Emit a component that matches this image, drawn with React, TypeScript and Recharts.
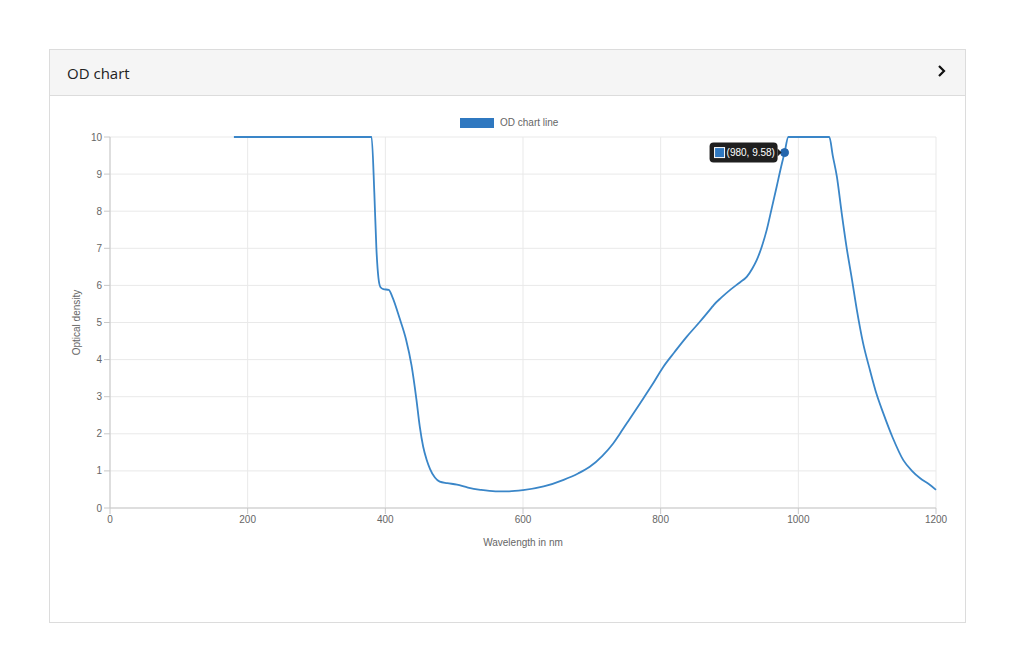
import React from 'react';
import {
  LineChart,
  Line,
  XAxis,
  YAxis,
  CartesianGrid,
  Legend,
  ReferenceDot,
} from 'recharts';

const wavelengths: number[] = [
  180, 380, 384, 387, 390, 393, 397, 405, 410, 421, 430, 438, 445, 450, 455, 460, 465, 472, 479,
  490, 504, 520, 538, 560, 580, 600, 630, 659, 680, 697, 715, 731, 741, 755, 770, 787, 804, 820,
  838, 856, 874, 877, 888, 901, 915, 925, 933, 939.5, 947, 954, 961, 968.5, 975, 980, 985.5,
  1045, 1050, 1056, 1063, 1070, 1078, 1085, 1094, 1104, 1114, 1123.5, 1137, 1152.5, 1165, 1177,
  1190, 1200,
];

const opticalDensity: number[] = [
  10, 10, 8.5, 7.0, 6.2, 5.95, 5.9, 5.88, 5.7, 5.1, 4.55, 3.85, 2.95, 2.2, 1.65, 1.3, 1.05, 0.82,
  0.71, 0.67, 0.63, 0.55, 0.49, 0.45, 0.45, 0.48, 0.58, 0.76, 0.93, 1.11, 1.4, 1.74, 2.01, 2.4,
  2.82, 3.3, 3.81, 4.2, 4.62, 5.0, 5.4, 5.47, 5.67, 5.88, 6.08, 6.23, 6.45, 6.68, 7.05, 7.49,
  8.05, 8.66, 9.2, 9.58, 10, 10, 9.5, 8.93, 7.95, 7.04, 6.15, 5.34, 4.45, 3.72, 3.05, 2.55, 1.9,
  1.29, 1.0, 0.8, 0.64, 0.49,
];

const xTicks: number[] = [0, 200, 400, 600, 800, 1000, 1200];
const yTicks: number[] = [0, 1, 2, 3, 4, 5, 6, 7, 8, 9, 10];

const highlightX = 980;
const highlightY = 9.58;

const seriesName = 'OD chart line';
const title = 'OD chart';
const xLabel = 'Wavelength in nm';
const yLabel = 'Optical density';

const data = wavelengths.map((nm, i) => ({ nm, od: opticalDensity[i] }));

const FONT = '"Liberation Sans", Arial, Helvetica, sans-serif';
const LINE_COLOR = '#3a86c8';
const LEGEND_COLOR = '#2f78c0';

const TooltipBox = (props: any) => {
  const vb = props.viewBox || {};
  const cx = vb.x + (vb.width || 0) / 2;
  const cy = vb.y + (vb.height || 0) / 2;
  const right = cx - 7;
  const left = cx - 75;
  const top = cy - 10;
  return (
    <g>
      <rect x={left} y={top} width={right - left} height={20} rx={4} ry={4} fill="#1f1f1f" />
      <polygon points={`${right},${cy - 4} ${cx - 3},${cy} ${right},${cy + 4}`} fill="#1f1f1f" />
      <rect x={left + 5} y={cy - 5} width={10} height={10} fill={LEGEND_COLOR} stroke="#fff" strokeWidth={1} />
      <text
        x={left + 17}
        y={cy + 3.5}
        fill="#fff"
        fontSize={10}
        fontFamily={FONT}
      >
        {`(${highlightX}, ${highlightY})`}
      </text>
    </g>
  );
};

const LegendContent = () => (
  <div style={{ display: 'flex', alignItems: 'center', fontFamily: FONT, fontSize: 10, color: '#666' }}>
    <div style={{ width: 34, height: 10, background: LEGEND_COLOR, marginRight: 6 }} />
    <span>{seriesName}</span>
  </div>
);

export default function App() {
  return (
    <div
      style={{
        position: 'absolute',
        left: 49,
        top: 49,
        width: 917,
        height: 574,
        boxSizing: 'border-box',
        border: '1px solid #dcdcdc',
        background: '#fff',
      }}
    >
      <div
        style={{
          height: 46,
          boxSizing: 'border-box',
          borderBottom: '1px solid #dcdcdc',
          background: '#f5f5f5',
          display: 'flex',
          alignItems: 'center',
          justifyContent: 'space-between',
          padding: '0 18px 0 17px',
        }}
      >
        <span style={{ fontFamily: '"Open Sans", sans-serif', fontSize: 15, color: '#222' }}>{title}</span>
        <svg width={10} height={14} style={{ marginTop: -4 }}>
          <polyline points="2,2 7,7 2,12" fill="none" stroke="#111" strokeWidth={2.2} />
        </svg>
      </div>
      <LineChart
        width={915}
        height={470}
        data={data}
        margin={{ top: 41, right: 29, bottom: 18, left: 0 }}
      >
        <CartesianGrid stroke="#e9e9e9" strokeWidth={1} />
        <XAxis
          type="number"
          dataKey="nm"
          domain={[0, 1200]}
          ticks={xTicks}
          height={40}
          stroke="#c8c8c8"
          tick={{ fill: '#666', fontSize: 10, fontFamily: FONT }}
          label={{ value: xLabel, position: 'center', dy: 14, fill: '#666', fontSize: 10, fontFamily: FONT }}
        />
        <YAxis
          type="number"
          domain={[0, 10]}
          ticks={yTicks}
          width={60}
          stroke="#c8c8c8"
          tick={{ fill: '#666', fontSize: 10, fontFamily: FONT }}
          label={{ value: yLabel, angle: -90, position: 'center', dx: -4, fill: '#666', fontSize: 10, fontFamily: FONT }}
        />
        <Legend
          layout="horizontal"
          verticalAlign="middle"
          align="center"
          wrapperStyle={{ top: 21, left: 410, width: 200, height: 12 }}
          content={<LegendContent />}
        />
        <Line
          type="monotone"
          dataKey="od"
          name={seriesName}
          stroke={LINE_COLOR}
          strokeWidth={1.8}
          dot={false}
          activeDot={false}
          isAnimationActive={false}
        />
        <ReferenceDot
          x={highlightX}
          y={highlightY}
          r={4}
          fill="#2466ad"
          stroke="#2466ad"
          label={{ content: (p: any) => <TooltipBox {...p} /> }}
        />
      </LineChart>
    </div>
  );
}
